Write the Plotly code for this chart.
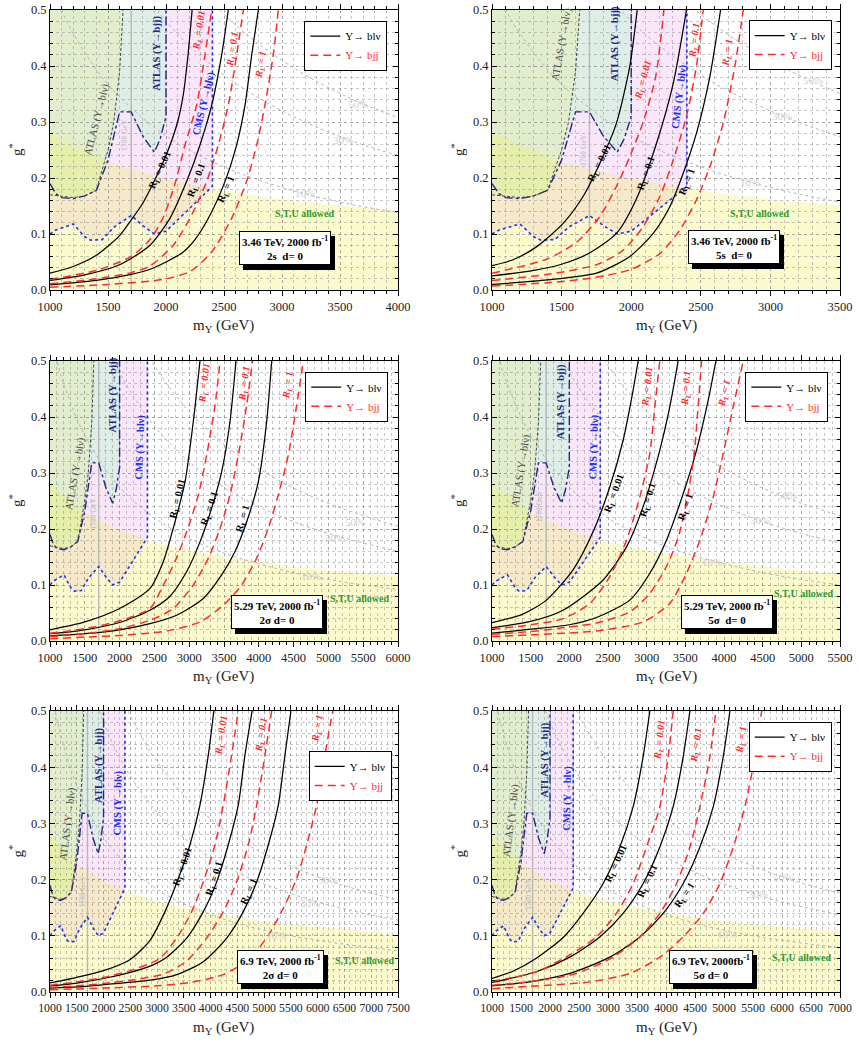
import math
import plotly.graph_objects as go

FONT = "Liberation Serif"

# ---------------- shared data (GeV, g*) ----------------
STU_M = [1000, 1500, 2000, 2500, 3000, 3500, 4000, 4500, 5000, 5500, 6000, 6500, 7000, 7500]
STU_G = [0.280, 0.229, 0.198, 0.177, 0.162, 0.151, 0.142, 0.133, 0.126, 0.121, 0.116, 0.112, 0.108, 0.102]

CONT_M = [1000, 1100, 1200, 1500, 2000, 2500, 3000, 3500, 4000, 4500, 5000, 5500, 6000, 6500, 7000, 7500]
CONT_10 = [0.55, 0.50, 0.458, 0.367, 0.275, 0.22, 0.183, 0.157, 0.138, 0.122, 0.11, 0.10, 0.092, 0.085, 0.079, 0.073]
CONT_30 = [0.96, 0.873, 0.80, 0.64, 0.48, 0.384, 0.32, 0.274, 0.24, 0.213, 0.192, 0.175, 0.16, 0.148, 0.137, 0.128]
CONT_50 = [1.23, 1.12, 1.025, 0.82, 0.615, 0.492, 0.41, 0.351, 0.308, 0.273, 0.246, 0.224, 0.205, 0.189, 0.176, 0.164]

ATLAS_BLV_M = [1000, 1100, 1200, 1300, 1400, 1450, 1500, 1550, 1600, 1630]
ATLAS_BLV_G = [0.170, 0.167, 0.165, 0.168, 0.178, 0.215, 0.25, 0.30, 0.39, 0.5]

ATLAS_BJJ_M = [1000, 1050, 1100, 1200, 1300, 1400, 1500, 1600, 1700, 1800, 1900, 1950, 2000, 2000]
ATLAS_BJJ_G = [0.19, 0.172, 0.165, 0.163, 0.168, 0.178, 0.232, 0.318, 0.318, 0.275, 0.246, 0.27, 0.31, 0.5]

CMS_BLV_M = [1000, 1050, 1200, 1300, 1350, 1450, 1550, 1700, 1800, 1900, 2000, 2100, 2200, 2300, 2400, 2400]
CMS_BLV_G = [0.10, 0.107, 0.118, 0.095, 0.089, 0.09, 0.112, 0.133, 0.115, 0.10, 0.105, 0.125, 0.145, 0.165, 0.185, 0.5]

M_1700 = 1700

# ---------------- panel data ----------------
X_MAX = [4000, 3500, 6000, 5500, 7500, 7000]
BOX_LINE1 = ["3.46 TeV, 2000 fb<sup>-1</sup>", "3.46 TeV, 2000 fb<sup>-1</sup>",
             "5.29 TeV, 2000 fb<sup>-1</sup>", "5.29 TeV, 2000 fb<sup>-1</sup>",
             "6.9 TeV, 2000 fb<sup>-1</sup>", "6.9 TeV, 2000fb<sup>-1</sup>"]
BOX_LINE2 = ["2s  d= 0", "5s  d= 0", "2\u03c3 d= 0", "5\u03c3  d= 0", "2\u03c3 d= 0", "5\u03c3 d= 0"]
RL_TEXT = ["0.01", "0.1", "1"]
TICK_SIZE = [12.5, 12.5, 12.5, 12.5, 11.8, 11.8]

# (mass list, g* list) : s = Y->blv (solid), d = Y->bjj (dashed)
P1_S001 = ([1000, 1200, 1400, 1600, 1700, 1800, 1900, 2000, 2100, 2150, 2190, 2225],
           [0.030, 0.042, 0.062, 0.097, 0.125, 0.155, 0.195, 0.24, 0.30, 0.35, 0.42, 0.5])
P1_S01 = ([1000, 1300, 1600, 1862, 2034, 2178, 2293, 2394, 2480, 2537],
          [0.017, 0.027, 0.045, 0.08, 0.128, 0.194, 0.259, 0.33, 0.42, 0.5])
P1_S1 = ([1000, 1400, 1700, 1862, 2000, 2149, 2250, 2365, 2509, 2609, 2681, 2739, 2796],
         [0.009, 0.017, 0.028, 0.037, 0.05, 0.068, 0.09, 0.128, 0.194, 0.259, 0.33, 0.42, 0.5])
P1_D001 = ([1000, 1400, 1700, 1862, 1977, 2078, 2164, 2264, 2336, 2394],
           [0.019, 0.035, 0.060, 0.09, 0.13, 0.19, 0.259, 0.33, 0.42, 0.5])
P1_D01 = ([1000, 1400, 1700, 1862, 2063, 2221, 2351, 2451, 2537, 2609, 2667],
          [0.011, 0.02, 0.031, 0.043, 0.08, 0.134, 0.194, 0.259, 0.33, 0.42, 0.5])
P1_D1 = ([1000, 1500, 1977, 2207, 2394, 2566, 2695, 2782, 2853, 2925, 2968],
         [0.005, 0.01, 0.019, 0.033, 0.068, 0.128, 0.194, 0.259, 0.33, 0.42, 0.5])

P2_S001 = ([1000, 1151, 1319, 1511, 1654, 1774, 1894, 1990, 2043],
           [0.0435, 0.054, 0.077, 0.119, 0.167, 0.226, 0.298, 0.40, 0.5])
P2_S01 = ([1000, 1300, 1500, 1700, 1894, 2038, 2182, 2302, 2397],
          [0.025, 0.035, 0.046, 0.066, 0.101, 0.163, 0.262, 0.369, 0.5])
P2_S1 = ([1000, 1400, 1750, 1990, 2158, 2278, 2373, 2469, 2565, 2642],
         [0.010, 0.018, 0.03, 0.06, 0.101, 0.149, 0.208, 0.28, 0.381, 0.5])
P2_D001 = ([1000, 1391, 1606, 1774, 1894, 1990, 2086, 2175, 2235],
           [0.030, 0.055, 0.085, 0.131, 0.185, 0.238, 0.30, 0.38, 0.5])
P2_D01 = ([1000, 1400, 1750, 1942, 2086, 2206, 2302, 2397, 2469, 2517],
          [0.017, 0.028, 0.045, 0.071, 0.113, 0.167, 0.232, 0.31, 0.40, 0.5])
P2_D1 = ([1000, 1400, 1702, 1990, 2206, 2349, 2469, 2565, 2661, 2745, 2805],
         [0.007, 0.013, 0.021, 0.036, 0.065, 0.107, 0.161, 0.22, 0.298, 0.40, 0.5])

P3_S001 = ([1000, 1500, 2000, 2437, 2628, 2796, 2940, 3059, 3155],
           [0.020, 0.034, 0.058, 0.094, 0.142, 0.213, 0.284, 0.392, 0.5])
P3_S01 = ([1000, 1500, 2000, 2437, 2724, 2964, 3155, 3322, 3466, 3586, 3672],
          [0.013, 0.020, 0.033, 0.055, 0.08, 0.124, 0.177, 0.237, 0.302, 0.392, 0.5])
P3_S1 = ([1000, 1500, 2000, 2437, 2820, 3203, 3466, 3658, 3826, 3993, 4113, 4185],
         [0.009, 0.013, 0.020, 0.031, 0.046, 0.076, 0.118, 0.16, 0.213, 0.284, 0.392, 0.5])
P3_D001 = ([1000, 1500, 2000, 2437, 2605, 2796, 2964, 3131, 3251, 3371, 3443],
           [0.014, 0.022, 0.036, 0.058, 0.094, 0.142, 0.195, 0.261, 0.332, 0.421, 0.5])
P3_D01 = ([1000, 1500, 2000, 2437, 2771, 3059, 3275, 3443, 3586, 3706, 3826, 3910],
          [0.008, 0.013, 0.022, 0.037, 0.058, 0.1, 0.148, 0.201, 0.261, 0.332, 0.421, 0.5])
P3_D1 = ([1000, 1500, 2000, 2500, 2724, 3155, 3490, 3754, 3969, 4136, 4280, 4424, 4544, 4640],
         [0.004, 0.007, 0.010, 0.015, 0.019, 0.034, 0.064, 0.1, 0.148, 0.201, 0.261, 0.332, 0.421, 0.5])

P4_S001 = ([1000, 1400, 1703, 2048, 2307, 2523, 2695, 2825, 2890],
           [0.033, 0.048, 0.073, 0.127, 0.195, 0.275, 0.358, 0.448, 0.5])
P4_S01 = ([1000, 1500, 1919, 2437, 2739, 2954, 3170, 3299, 3407],
          [0.024, 0.035, 0.055, 0.109, 0.168, 0.24, 0.341, 0.418, 0.5])
P4_S1 = ([1000, 1500, 2000, 2350, 2782, 3041, 3256, 3472, 3645, 3796, 3895],
         [0.014, 0.021, 0.029, 0.042, 0.073, 0.121, 0.18, 0.263, 0.341, 0.43, 0.5])
P4_D001 = ([1000, 1500, 1919, 2264, 2523, 2739, 2911, 3041, 3105, 3170],
           [0.021, 0.029, 0.040, 0.067, 0.115, 0.18, 0.257, 0.335, 0.418, 0.5])
P4_D01 = ([1000, 1500, 2000, 2350, 2782, 3041, 3256, 3410, 3520, 3610, 3665, 3709],
          [0.012, 0.017, 0.025, 0.032, 0.052, 0.085, 0.133, 0.186, 0.251, 0.329, 0.418, 0.5])
P4_D1 = ([1000, 1500, 2350, 2954, 3299, 3515, 3688, 3860, 3990, 4119, 4249],
         [0.008, 0.011, 0.018, 0.034, 0.067, 0.121, 0.18, 0.257, 0.335, 0.418, 0.5])

P5_S001 = ([1000, 1500, 2000, 2500, 2868, 3148, 3397, 3615, 3802, 3957, 4060],
           [0.016, 0.026, 0.038, 0.058, 0.092, 0.143, 0.202, 0.262, 0.333, 0.422, 0.5])
P5_S01 = ([1000, 1500, 2000, 2500, 2868, 3179, 3553, 3864, 4113, 4330, 4517, 4642, 4775],
          [0.011, 0.016, 0.024, 0.035, 0.046, 0.062, 0.096, 0.143, 0.196, 0.262, 0.333, 0.422, 0.5])
P5_S1 = ([1000, 1500, 2000, 2868, 3366, 3864, 4300, 4611, 4861, 5078, 5265, 5389, 5500],
         [0.007, 0.009, 0.013, 0.021, 0.031, 0.054, 0.096, 0.143, 0.196, 0.262, 0.333, 0.422, 0.5])
P5_D001 = ([1000, 1500, 2000, 2500, 3054, 3366, 3646, 3864, 4082, 4237, 4393, 4515],
           [0.012, 0.018, 0.026, 0.038, 0.06, 0.096, 0.143, 0.196, 0.262, 0.333, 0.422, 0.5])
P5_D01 = ([1000, 1500, 2000, 2500, 3117, 3553, 3926, 4237, 4486, 4704, 4861, 5016, 5140],
          [0.008, 0.011, 0.015, 0.021, 0.032, 0.055, 0.096, 0.143, 0.196, 0.262, 0.333, 0.422, 0.5])
P5_D1 = ([1000, 2000, 3000, 3615, 4237, 4735, 5078, 5358, 5608, 5795, 5981, 6136, 6280],
         [0.004, 0.007, 0.011, 0.017, 0.031, 0.06, 0.101, 0.149, 0.202, 0.262, 0.333, 0.422, 0.5])

P6_S001 = ([1000, 1362, 1765, 2226, 2571, 2916, 3204, 3434, 3606, 3721],
           [0.024, 0.037, 0.06, 0.097, 0.14, 0.193, 0.258, 0.33, 0.419, 0.5])
P6_S01 = ([1000, 1765, 2341, 2858, 3261, 3606, 3894, 4124, 4297, 4412],
          [0.017, 0.036, 0.062, 0.098, 0.14, 0.193, 0.258, 0.33, 0.419, 0.5])
P6_S1 = ([1000, 1650, 2341, 3031, 3549, 3952, 4297, 4585, 4815, 4987, 5102],
         [0.011, 0.018, 0.033, 0.062, 0.098, 0.14, 0.193, 0.258, 0.33, 0.419, 0.5])
P6_D001 = ([1000, 1765, 2341, 2801, 3146, 3434, 3664, 3894, 4038, 4124],
           [0.019, 0.036, 0.066, 0.098, 0.14, 0.193, 0.258, 0.33, 0.419, 0.5])
P6_D01 = ([1000, 1700, 2456, 3089, 3549, 3894, 4182, 4412, 4585, 4757, 4860],
          [0.012, 0.019, 0.033, 0.062, 0.098, 0.14, 0.193, 0.258, 0.33, 0.419, 0.5])
P6_D1 = ([1000, 1800, 2686, 3376, 3894, 4297, 4642, 4930, 5160, 5361, 5534, 5650],
         [0.006, 0.011, 0.018, 0.033, 0.062, 0.098, 0.14, 0.193, 0.258, 0.33, 0.419, 0.5])

SOLID = [[P1_S001, P1_S01, P1_S1], [P2_S001, P2_S01, P2_S1], [P3_S001, P3_S01, P3_S1],
         [P4_S001, P4_S01, P4_S1], [P5_S001, P5_S01, P5_S1], [P6_S001, P6_S01, P6_S1]]
DASHED = [[P1_D001, P1_D01, P1_D1], [P2_D001, P2_D01, P2_D1], [P3_D001, P3_D01, P3_D1],
          [P4_D001, P4_D01, P4_D1], [P5_D001, P5_D01, P5_D1], [P6_D001, P6_D01, P6_D1]]

# label positions (mass, g*)
LAB_SOLID = [[(1948, 0.214), (2264, 0.196), (2523, 0.179)],
             [(1774, 0.226), (2110, 0.208), (2409, 0.193)],
             [(2842, 0.254), (3297, 0.237), (3775, 0.219)],
             [(2588, 0.263), (3019, 0.251), (3515, 0.240)],
             [(3488, 0.223), (4078, 0.202), (4731, 0.178)],
             [(3146, 0.229), (3693, 0.196), (4326, 0.172)]]
LAB_DASHED = [[(2287, 0.464), (2580, 0.429), (2825, 0.402)],
              [(2086, 0.375), (2457, 0.446), (2692, 0.423)],
              [(3225, 0.460), (3799, 0.460), (4421, 0.457)],
              [(3019, 0.454), (3515, 0.451), (4011, 0.442)],
              [(4203, 0.457), (4949, 0.457), (6006, 0.469)],
              [(3894, 0.448), (4527, 0.439), (5304, 0.448)]]
LAB_ATLAS_BLV = [(1402, 0.304), (1499, 0.44), (1359, 0.299), (1380, 0.305), (1342, 0.30), (1334, 0.306)]
ANG_ATLAS_BLV = [-76, -80, -80, -81, -83, -83]
LAB_ATLAS_BJJ = [(1920, 0.423), (1882, 0.44), (1909, 0.439), (1897, 0.427), (1914, 0.404), (1909, 0.413)]
LAB_CMS = [(2322, 0.333), (2345, 0.345), (2292, 0.347), (2316, 0.347), (2275, 0.336), (2295, 0.344)]
ANG_CMS = [-76, -83, -88, -88, -89, -89]
LAB_1700 = [(1647, 0.277), (1654, 0.25), (1622, 0.228), (1617, 0.24), (1622, 0.18), (1639, 0.175)]
LAB_STU = [(3198, 0.137), (2925, 0.137), (5450, 0.076), (5025, 0.084), (6877, 0.056), (6339, 0.062)]
LAB_50 = [(3658, 0.333), (3308, 0.375), (5378, 0.213), (4809, 0.260), (6193, 0.199), (6023, 0.205)]
LAB_30 = [(3529, 0.268), (3080, 0.31), (5091, 0.184), (4464, 0.216), (5851, 0.159), (5592, 0.174)]
LAB_10 = [(3198, 0.173), (2853, 0.192), (4756, 0.116), (3839, 0.141), (5229, 0.101), (5045, 0.104)]
BOX_POS = [(0.675, 0.149), (0.695, 0.155), (0.651, 0.104), (0.674, 0.104), (0.662, 0.090), (0.629, 0.090)]
LEG_POS = [(0.4509, 0.9802), (0.9682, 0.9808), (0.4520, 0.6436), (0.9643, 0.6436), (0.4560, 0.2800), (0.9682, 0.3081)]

# ---------------- layout geometry (pixels) ----------------
W, H = 859, 1043
COLS = [(50, 398), (492, 840)]
ROWS = [(10, 290), (361, 641), (711, 992)]


def px_x(p):
    return p / W


def px_y(p):
    return 1 - p / H


def label_angle(curve, g0, xmax):
    ms, gs = curve
    sx = 348.0 / (xmax - 1000)
    sy = 560.0
    for j in range(len(gs) - 1):
        if gs[j] <= g0 <= gs[j + 1]:
            dx = (ms[j + 1] - ms[j]) * sx
            dy = (gs[j + 1] - gs[j]) * sy
            return -math.degrees(math.atan2(dy, dx))
    return -75


def poly_path(ms, gs):
    pts = ["%s,%s" % (m, g) for m, g in zip(ms, gs)]
    return "M " + " L ".join(pts) + " Z"


def ann(**kw):
    base = dict(showarrow=False, xanchor="center", yanchor="middle")
    base.update(kw)
    return base


fig = go.Figure()
layout = dict(width=W, height=H, margin=dict(l=0, r=0, t=0, b=0, autoexpand=False),
              paper_bgcolor="white", plot_bgcolor="white", showlegend=True,
              font=dict(family=FONT, color="#222"))
shapes = []
annotations = []

GRID = "rgba(130,130,130,0.45)"

for k in range(6):
    i = k + 1
    row, col = k // 2, k % 2
    xs = "" if i == 1 else str(i)
    xref, yref = "x" + xs, "y" + xs
    xmax = X_MAX[k]
    leg = "legend" if i == 1 else "legend%d" % i
    x0p, x1p = COLS[col]
    y0p, y1p = ROWS[row]

    layout["xaxis" + xs] = dict(
        domain=[px_x(x0p), px_x(x1p)], anchor=yref, range=[1000, xmax], automargin=False,
        tickvals=list(range(1000, xmax + 1, 500)),
        ticktext=[str(v) for v in range(1000, xmax + 1, 500)], tickangle=0,
        ticks="outside", ticklen=5, tickcolor="black", mirror="allticks",
        showline=True, linecolor="black", linewidth=1, zeroline=False,
        showgrid=True, gridcolor=GRID, griddash="dot", gridwidth=1,
        tickfont=dict(family=FONT, size=TICK_SIZE[k], color="#222"),
        minor=dict(dtick=100, tick0=1000, ticks="outside", ticklen=3, tickcolor="black",
                   showgrid=True, gridcolor=GRID, griddash="dot", gridwidth=1),
    )
    layout["yaxis" + xs] = dict(
        domain=[px_y(y1p), px_y(y0p)], anchor=xref, range=[0, 0.5], automargin=False,
        tickvals=[0.0, 0.1, 0.2, 0.3, 0.4, 0.5], tickformat=".1f",
        ticks="inside", ticklen=5, tickcolor="black", mirror="allticks",
        showline=True, linecolor="black", linewidth=1, zeroline=False,
        showgrid=True, gridcolor=GRID, griddash="dot", gridwidth=1,
        tickfont=dict(family=FONT, size=12.5, color="#222"),
        minor=dict(dtick=0.02, tick0=0, ticks="inside", ticklen=3, tickcolor="black",
                   showgrid=True, gridcolor=GRID, griddash="dot", gridwidth=1),
    )

    # ----- filled regions (below grid); yellow tint drawn last on top -----
    shapes.append(dict(type="path", xref=xref, yref=yref, layer="below", line=dict(width=0),
                       fillcolor="rgb(249,230,249)",
                       path=poly_path(CMS_BLV_M + [1000], CMS_BLV_G + [0.5])))
    shapes.append(dict(type="path", xref=xref, yref=yref, layer="below", line=dict(width=0),
                       fillcolor="rgb(222,238,230)",
                       path=poly_path(ATLAS_BJJ_M + [1000], ATLAS_BJJ_G + [0.5])))
    shapes.append(dict(type="path", xref=xref, yref=yref, layer="below", line=dict(width=0),
                       fillcolor="rgb(226,237,206)",
                       path=poly_path(ATLAS_BLV_M + [1000], ATLAS_BLV_G + [0.5])))
    shapes.append(dict(type="path", xref=xref, yref=yref, layer="below", line=dict(width=0),
                       fillcolor="rgba(240,240,103,0.33)",
                       path=poly_path([1000] + STU_M + [STU_M[-1]], [0] + STU_G + [0])))

    # ----- percentage contours -----
    for cg in (CONT_10, CONT_30, CONT_50):
        fig.add_trace(go.Scatter(x=CONT_M, y=cg, mode="lines", xaxis=xref, yaxis=yref,
                                 line=dict(color="#b4b4b4", width=1, dash="dot", shape="spline"),
                                 showlegend=False, hoverinfo="skip"))
    # ----- 1700 GeV line -----
    fig.add_trace(go.Scatter(x=[M_1700, M_1700], y=[0, 0.5], mode="lines", xaxis=xref, yaxis=yref,
                             line=dict(color="#b8b8b8", width=1.4), showlegend=False, hoverinfo="skip"))
    # ----- exclusion boundaries -----
    fig.add_trace(go.Scatter(x=CMS_BLV_M, y=CMS_BLV_G, mode="lines", xaxis=xref, yaxis=yref,
                             line=dict(color="#2030f0", width=1.6, dash="dot"),
                             showlegend=False, hoverinfo="skip"))
    fig.add_trace(go.Scatter(x=ATLAS_BJJ_M, y=ATLAS_BJJ_G, mode="lines", xaxis=xref, yaxis=yref,
                             line=dict(color="#24248c", width=1.4, dash="dashdot"),
                             showlegend=False, hoverinfo="skip"))
    fig.add_trace(go.Scatter(x=ATLAS_BLV_M, y=ATLAS_BLV_G, mode="lines", xaxis=xref, yaxis=yref,
                             line=dict(color="#444444", width=1, dash="3px,2px"),
                             showlegend=False, hoverinfo="skip"))

    # ----- reach curves -----
    for j, cur in enumerate(SOLID[k]):
        fig.add_trace(go.Scatter(x=cur[0], y=cur[1], mode="lines", xaxis=xref, yaxis=yref,
                                 line=dict(color="black", width=1.25, shape="spline", smoothing=0.7),
                                 name="Y\u2192 bl\u03bd", legend=leg, showlegend=(j == 0),
                                 hoverinfo="skip"))
    for j, cur in enumerate(DASHED[k]):
        fig.add_trace(go.Scatter(x=cur[0], y=cur[1], mode="lines", xaxis=xref, yaxis=yref,
                                 line=dict(color="#ff2a2a", width=1.5, dash="8px,5px",
                                           shape="spline", smoothing=0.7),
                                 name='<span style="color:#ff2a2a">Y\u2192 bjj</span>', legend=leg,
                                 showlegend=(j == 0), hoverinfo="skip"))

    layout[leg] = dict(x=LEG_POS[k][0], y=LEG_POS[k][1], xanchor="right", yanchor="top",
                       xref="paper", yref="paper", bgcolor="white", bordercolor="black",
                       borderwidth=1, font=dict(family=FONT, size=11, color="black"),
                       tracegroupgap=0, itemwidth=30)

    # ----- curve labels -----
    for j in range(3):
        m, g = LAB_SOLID[k][j]
        annotations.append(ann(x=m, y=g, xref=xref, yref=yref,
                               text="<b>R<sub>L</sub> = %s</b>" % RL_TEXT[j],
                               textangle=label_angle(SOLID[k][j], g, xmax),
                               font=dict(family=FONT, size=10, color="black")))
        m, g = LAB_DASHED[k][j]
        annotations.append(ann(x=m, y=g, xref=xref, yref=yref,
                               text="<b><i>R<sub>L</sub> = %s</i></b>" % RL_TEXT[j],
                               textangle=label_angle(DASHED[k][j], g, xmax),
                               font=dict(family=FONT, size=10, color="#ff2a2a")))

    # ----- region labels -----
    m, g = LAB_ATLAS_BLV[k]
    annotations.append(ann(x=m, y=g, xref=xref, yref=yref,
                           text="ATLAS (Y\u2192bl\u03bd)", textangle=ANG_ATLAS_BLV[k],
                           font=dict(family=FONT, size=10.5, color="#4a4a4a")))
    m, g = LAB_ATLAS_BJJ[k]
    annotations.append(ann(x=m, y=g, xref=xref, yref=yref,
                           text="<b>ATLAS (Y\u2192bjj)</b>", textangle=-90,
                           font=dict(family=FONT, size=10.5, color="#24248c")))
    m, g = LAB_CMS[k]
    annotations.append(ann(x=m, y=g, xref=xref, yref=yref,
                           text="<b>CMS (Y\u2192bl\u03bd)</b>", textangle=ANG_CMS[k],
                           font=dict(family=FONT, size=10.5, color="#2030f0")))
    m, g = LAB_1700[k]
    annotations.append(ann(x=m, y=g, xref=xref, yref=yref,
                           text="<b>1700 GeV</b>", textangle=-90,
                           font=dict(family=FONT, size=7.5, color="#c8c8c8")))
    m, g = LAB_STU[k]
    annotations.append(ann(x=m, y=g, xref=xref, yref=yref,
                           text="<b>S,T,U allowed</b>",
                           font=dict(family=FONT, size=10, color="#2e9a2e")))
    for pos, txt in ((LAB_50[k], "50%"), (LAB_30[k], "30%"), (LAB_10[k], "10%")):
        annotations.append(ann(x=pos[0], y=pos[1], xref=xref, yref=yref,
                               text=txt, font=dict(family=FONT, size=11, color="#cfcfcf")))

    # ----- info box with shadow -----
    btxt = "<b>%s</b><br><b>%s</b>" % (BOX_LINE1[k], BOX_LINE2[k])
    bx, by = BOX_POS[k]
    annotations.append(ann(x=bx, y=by, xref=xref + " domain", yref=yref + " domain",
                           text=btxt, xshift=4, yshift=-5,
                           font=dict(family=FONT, size=11, color="black"),
                           bgcolor="black", bordercolor="black", borderwidth=1, borderpad=2))
    annotations.append(ann(x=bx, y=by, xref=xref + " domain", yref=yref + " domain",
                           text=btxt,
                           font=dict(family=FONT, size=11, color="black"),
                           bgcolor="white", bordercolor="black", borderwidth=1, borderpad=2))

    # ----- axis titles -----
    annotations.append(ann(x=px_x((x0p + x1p) / 2), y=px_y(y1p + 36), xref="paper", yref="paper",
                           text="m<sub>Y</sub> (GeV)",
                           font=dict(family=FONT, size=15, color="#222")))
    annotations.append(ann(x=px_x(x0p - 34), y=px_y((y0p + y1p) / 2), xref="paper", yref="paper",
                           text="g<sup>*</sup>", textangle=-90,
                           font=dict(family=FONT, size=15, color="#222")))

layout["shapes"] = shapes
layout["annotations"] = annotations
fig.update_layout(**layout)
fig.write_html("out.html")
